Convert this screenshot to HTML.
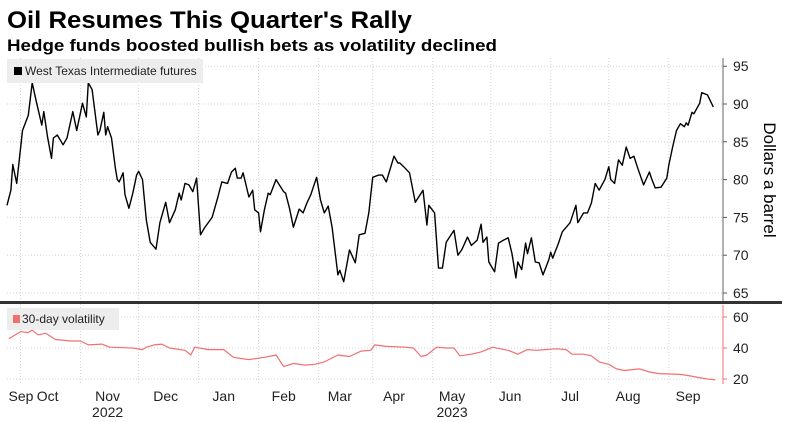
<!DOCTYPE html>
<html><head><meta charset="utf-8"><style>
html,body{margin:0;padding:0;background:#fff;}
svg{display:block;font-family:"Liberation Sans","DejaVu Sans",sans-serif;}
</style></head><body>
<svg id="chart" width="792" height="422" viewBox="0 0 792 422" xmlns="http://www.w3.org/2000/svg">
<text x="7" y="28" font-size="24" font-weight="bold" textLength="405" lengthAdjust="spacingAndGlyphs" fill="#000">Oil Resumes This Quarter's Rally</text>
<text x="7" y="51" font-size="17" font-weight="bold" textLength="490" lengthAdjust="spacingAndGlyphs" fill="#000">Hedge funds boosted bullish bets as volatility declined</text>
<g id="grid"></g>
<g id="marks"></g>
<g id="axes"></g>
<g>
<rect x="7" y="59" width="196" height="24" fill="#ededed"/>
<rect x="14" y="67" width="8" height="8" fill="#000"/>
<text x="25" y="75" font-size="12" fill="#222">West Texas Intermediate futures</text>
</g>
<g>
<rect x="7" y="308" width="112" height="22" fill="#ededed"/>
<rect x="13" y="315" width="7" height="8" fill="#f07070"/>
<text x="22" y="323" font-size="12" fill="#222">30-day volatility</text>
</g>
<text transform="translate(764,180) rotate(90)" text-anchor="middle" font-size="17" fill="#000">Dollars a barrel</text>
</svg>
<script>
// day offsets from 2022-09-24
const oilDays=[0,2,3,5,8,11,13,15,18,19,21,23,24,26,29,31,34,36,39,41,42,44,47,48,50,51,52,54,56,57,58,60,61,63,65,67,68,70,72,74,77,79,82,84,87,89,90,92,94,96,98,100,102,106,109,111,114,116,118,119,121,122,125,127,128,130,131,133,135,136,139,143,144,146,148,151,153,155,157,160,162,164,166,168,171,172,174,177,180,182,185,187,189,192,194,196,200,202,203,205,208,211,215,217,218,221,223,225,227,231,233,235,238,240,243,245,246,248,249,252,254,256,259,261,263,264,266,268,269,271,273,275,277,280,281,282,285,287,291,294,295,298,300,302,304,306,309,311,312,314,316,318,320,322,324,326,329,332,333,335,338,341,342,344,346,348,350,351,352,354,355,358,359,362,365];
const oilPrices=[76.6,78.6,82,79.5,86.5,88.5,92.8,90.5,87.2,89,85.6,82.8,85.5,85.9,84.6,85.5,89,86.5,90.1,88.3,92.8,91.9,85.9,86.5,88.9,85.9,87,85.5,81.5,80,79.7,80.9,78,76.2,78.2,80.6,81.1,80,74.7,71.7,70.8,74.3,77,74.3,76,78.2,77.3,79.5,79.3,78.4,80.2,72.7,73.6,75,77.7,79.7,79.5,81,81.5,80.2,80.2,80.9,77.7,78.6,76,75.6,73.1,76,78.2,78,80,78.4,78.2,76.2,73.7,76.1,75.6,76.9,78,80.3,77.3,75.6,76.5,73.7,67.4,68,66.5,70.7,69,72.7,72.9,75.6,80.3,80.6,80.6,79.7,83.1,82.2,82.2,81.7,80.9,77,78.6,74,76.6,75.6,68.3,68.3,71.7,73.3,70,70.7,72.4,71.3,72,74.1,71.7,72.4,69.1,67.8,71.6,71.9,72.3,70.2,67,69.1,68.1,71.6,70.2,72.3,69.1,69,67.4,69.4,70.4,69.6,71.6,73.1,74.3,76.6,74.3,75.6,75.6,76.9,79.5,78.6,80,81.7,80,79.5,82.6,81.9,84.3,82.8,83.1,81.5,79.3,81,80.2,78.9,79,80.2,81.9,84.3,86.5,87.4,87,87.5,87.2,88.9,88.7,90.1,91.5,91.2,89.6,90.3];
const volDays=[1,3,7,11,13,16,20,25,33,38,42,49,53,65,70,72,76,80,84,92,95,97,104,112,117,125,133,139,143,148,154,159,164,171,177,183,188,190,196,206,210,214,217,222,227,231,234,240,245,251,255,259,264,269,274,278,284,289,292,298,302,306,311,315,319,327,332,337,348,353,357,362,366];
const volValues=[46,47.5,50.5,50,51.5,48.5,49.5,45.5,44.5,44.5,42,42.5,40.5,40,39,40.5,42,42.5,40,38.5,35.5,40.5,39,39,34,32.5,34,35.5,28,30,29,29.5,31,35.5,34.5,38,38.5,42,41,40.5,40,34.5,35.5,40.5,40,40,35,36,37.5,40.5,39.5,38.5,36,39,38.5,39,39.5,39,36,36,35,31,29.5,26.5,25.5,26.5,24.5,23.5,23,22,21,20,19.5];
const oilTicks=[65,70,75,80,85,90,95];
const volTicks=[20,40,60];
const monthLabels=["Sep","Oct","Nov","Dec","Jan","Feb","Mar","Apr","May","Jun","Jul","Aug","Sep"];
const monthLabelDays=[-4,21,52,82,112,143,172,200,230,260,291,321,352];
const gridDays=[7,38,68,99,130,161,189,220,250,281,311,342];
const yearLabels=["2022","2023"];
const yearLabelDays=[52,230];

const NS="http://www.w3.org/2000/svg";
const xS=d=>7+d*1.935;
const yOil=v=>293-(v-65)*7.56;
const yVol=v=>379-(v-20)*1.55;
const grid=document.getElementById('grid'),marks=document.getElementById('marks'),axes=document.getElementById('axes');
function mk(tag,attrs,parent){const e=document.createElementNS(NS,tag);for(const k in attrs)e.setAttribute(k,attrs[k]);parent.appendChild(e);return e;}

gridDays.forEach(d=>{
  const l=mk('line',{x1:xS(d),x2:xS(d),y1:58,y2:384,stroke:'#d4d4d4','stroke-dasharray':'1,2'},grid);
  
  
});
oilTicks.forEach(v=>{
  const l=mk('line',{x1:7,x2:723,y1:yOil(v),y2:yOil(v),stroke:'#d4d4d4','stroke-dasharray':'1,2'},grid);
  
  
  const t=mk('text',{x:733,y:yOil(v)+5,'font-size':14,fill:'#222'},axes);
  t.textContent=v;
  
  
  mk('line',{x1:723,x2:727,y1:yOil(v),y2:yOil(v),stroke:'#555'},axes);
});
volTicks.forEach(v=>{
  const l=mk('line',{x1:7,x2:723,y1:yVol(v),y2:yVol(v),stroke:'#d4d4d4','stroke-dasharray':'1,2'},grid);
  
  
  const t=mk('text',{x:733,y:yVol(v)+5,'font-size':14,fill:'#222'},axes);
  t.textContent=v;
  
  
  mk('line',{x1:723,x2:727,y1:yVol(v),y2:yVol(v),stroke:'#f07070'},axes);
});
mk('line',{x1:723,x2:723,y1:58,y2:302,stroke:'#666','stroke-width':1},axes);
mk('line',{x1:723,x2:723,y1:305,y2:384,stroke:'#f07070','stroke-width':1},axes);
const sep=mk('rect',{x:0,y:301,width:782,height:3,fill:'#333'},axes);



const op=mk('path',{d:oilDays.map((d,i)=>(i?'L':'M')+xS(d).toFixed(1)+','+yOil(oilPrices[i]).toFixed(1)).join(''),fill:'none',stroke:'#000','stroke-width':1.4,'stroke-linejoin':'round'},marks);


const vp=mk('path',{d:volDays.map((d,i)=>(i?'L':'M')+xS(d).toFixed(1)+','+yVol(volValues[i]).toFixed(1)).join(''),fill:'none',stroke:'#f07070','stroke-width':1.2,'stroke-linejoin':'round'},marks);



monthLabels.forEach((m,i)=>{
  const x=Math.max(21,xS(monthLabelDays[i]));
  const t=mk('text',{x:x,y:401,'font-size':14,'text-anchor':'middle',fill:'#222'},axes);
  t.textContent=m;
  
  
});
yearLabels.forEach((y,i)=>{
  const t=mk('text',{x:xS(yearLabelDays[i]),y:417,'font-size':14,'text-anchor':'middle',fill:'#222'},axes);
  t.textContent=y;
  
  
});
</script>
</body></html>
